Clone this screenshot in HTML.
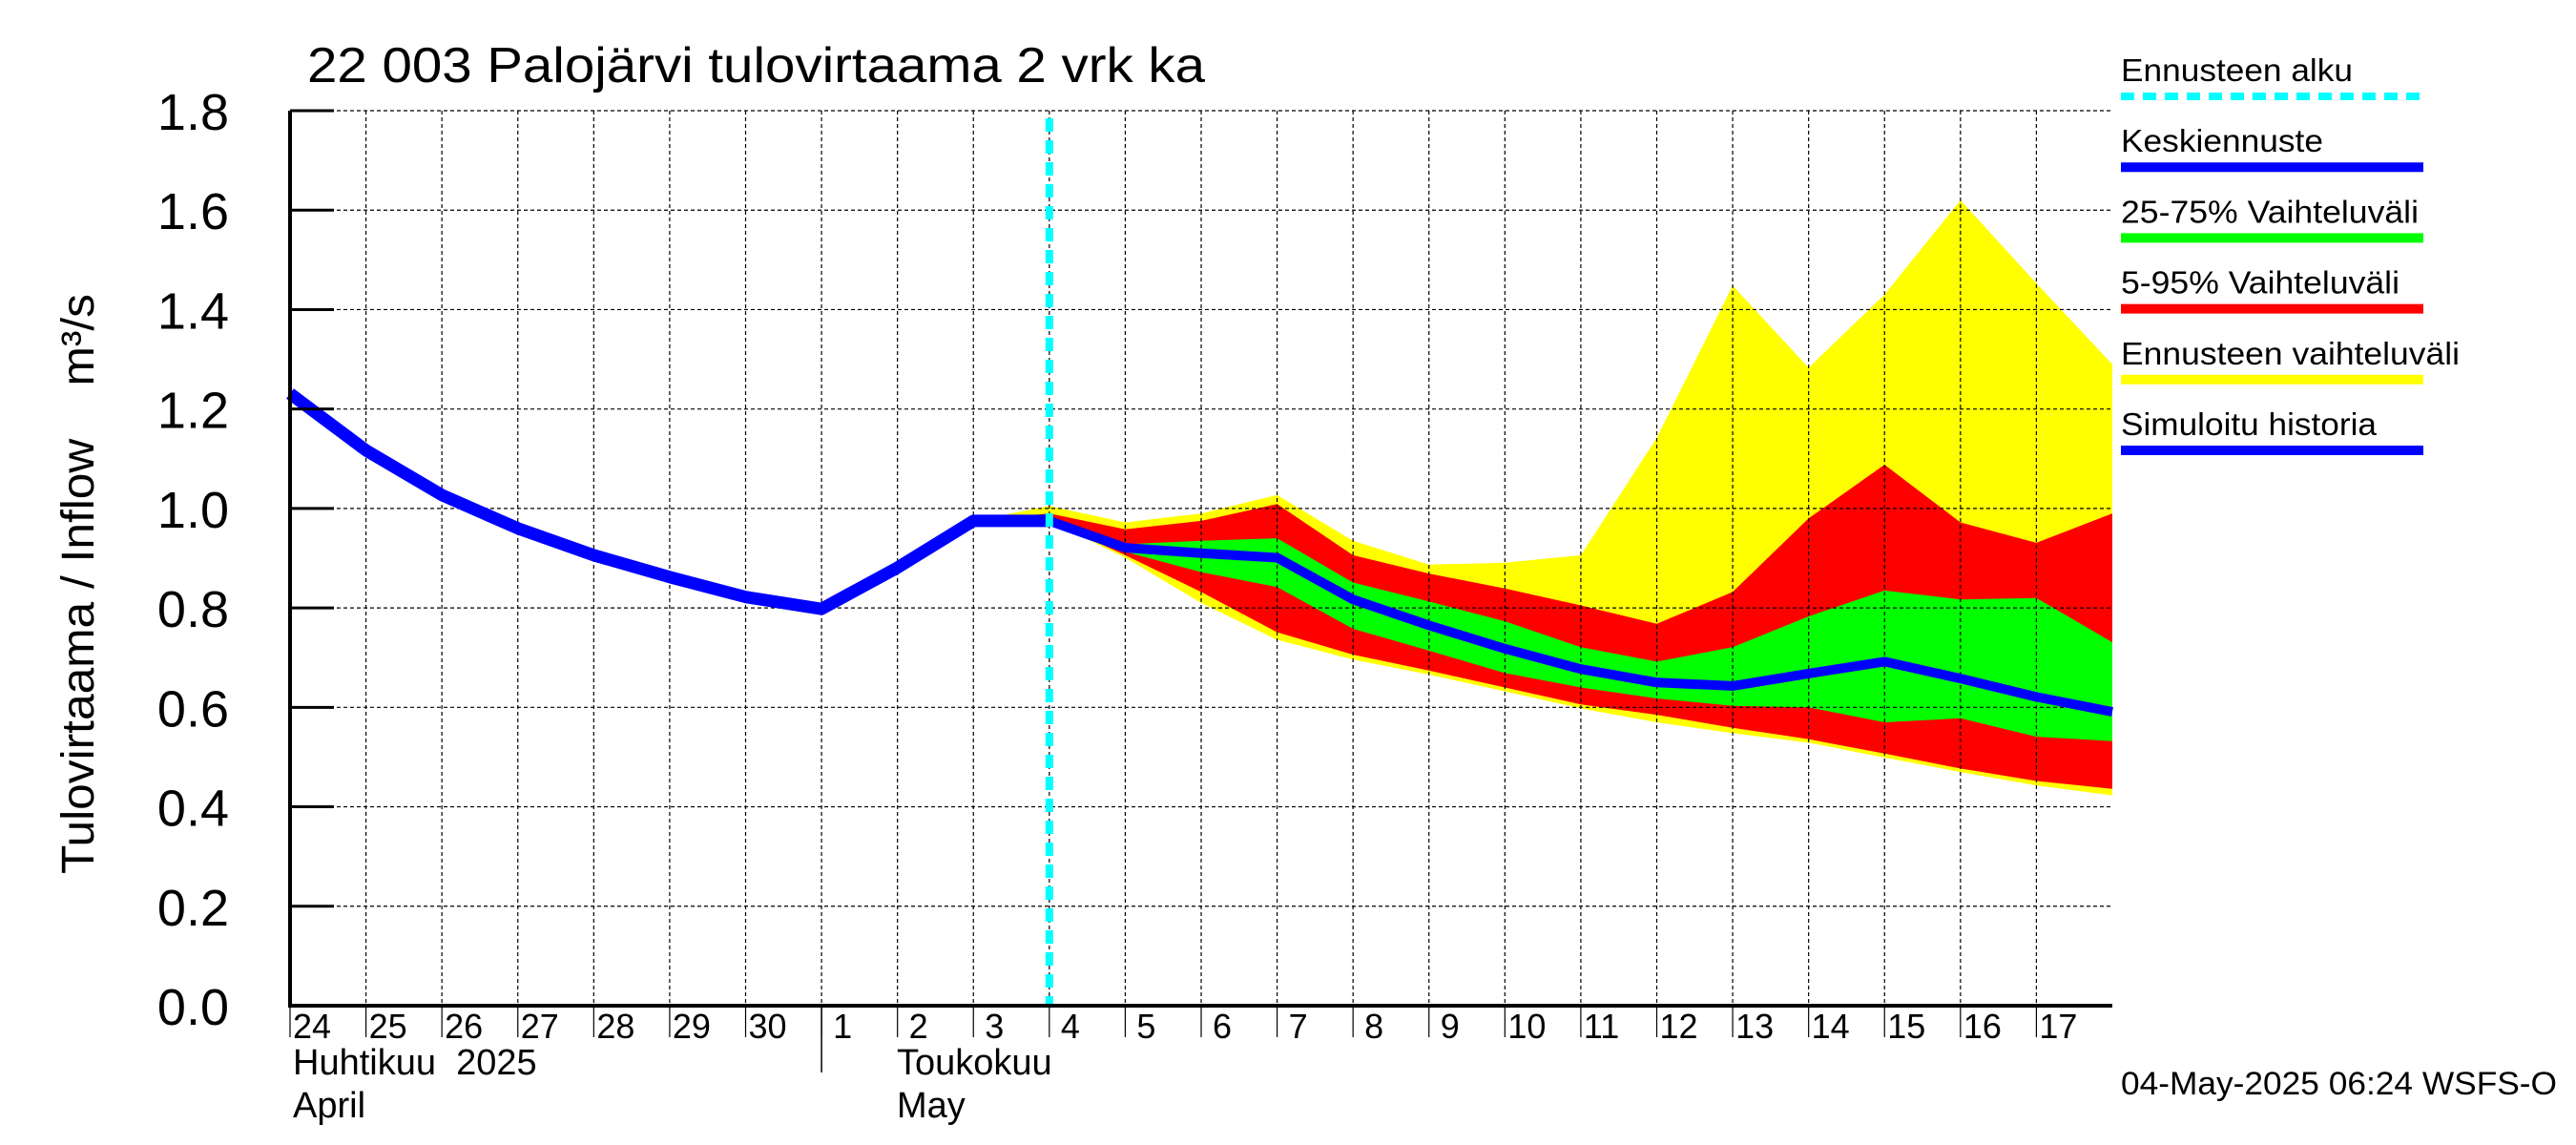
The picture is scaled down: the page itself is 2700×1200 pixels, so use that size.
<!DOCTYPE html>
<html><head><meta charset="utf-8"><style>
html,body{margin:0;padding:0;background:#fff;}
svg{display:block;font-family:"Liberation Sans",sans-serif;}
text{white-space:pre;}
</style></head><body>
<svg id="chart" width="2700" height="1200" viewBox="0 0 2700 1200" xmlns="http://www.w3.org/2000/svg" xml:space="preserve">
<rect width="2700" height="1200" fill="#fff"/>
<g id="bands"></g>
<g id="grid"></g>
<g id="lines"></g>
<g id="axes"></g>
<text x="322" y="86" font-size="52" textLength="941" lengthAdjust="spacingAndGlyphs">22 003 Palojärvi tulovirtaama 2 vrk ka</text>
<text transform="translate(98,612) rotate(-90)" text-anchor="middle" font-size="48" textLength="608" lengthAdjust="spacingAndGlyphs">Tulovirtaama / Inflow    m³/s</text>
<text x="307" y="1126" font-size="38">Huhtikuu  2025</text>
<text x="307" y="1171" font-size="38">April</text>
<text x="940" y="1126" font-size="38">Toukokuu</text>
<text x="940" y="1171" font-size="38">May</text>
<text x="2223" y="1147" font-size="34" textLength="457" lengthAdjust="spacingAndGlyphs">04-May-2025 06:24 WSFS-O</text>
<g id="legend"></g>
</svg>
<script>
const dayLabels=["24","25","26","27","28","29","30","1","2","3","4","5","6","7","8","9","10","11","12","13","14","15","16","17"];
const yTicks=[0,0.2,0.4,0.6,0.8,1.0,1.2,1.4,1.6,1.8];
const histValues=[1.231,1.117,1.027,0.96,0.906,0.862,0.822,0.798,0.881,0.975,0.975];
const fcStart=9;
const medianValues=[0.975,0.975,0.921,0.91,0.901,0.817,0.765,0.718,0.677,0.650,0.643,0.668,0.692,0.658,0.621,0.591];
const p75Values=[0.975,0.975,0.928,0.935,0.94,0.851,0.813,0.773,0.721,0.692,0.721,0.783,0.835,0.817,0.820,0.731];
const p25Values=[0.975,0.975,0.913,0.872,0.842,0.758,0.714,0.669,0.640,0.618,0.603,0.600,0.570,0.578,0.541,0.532];
const p95Values=[0.975,0.99,0.958,0.975,1.009,0.906,0.869,0.839,0.805,0.768,0.832,0.98,1.088,0.972,0.931,0.99];
const p05Values=[0.975,0.975,0.906,0.832,0.751,0.706,0.674,0.640,0.606,0.585,0.559,0.536,0.507,0.477,0.452,0.436];
const maxValues=[0.975,1.005,0.972,0.99,1.027,0.935,0.887,0.891,0.906,1.142,1.448,1.283,1.43,1.62,1.453,1.29];
const minValues=[0.975,0.975,0.901,0.81,0.736,0.696,0.666,0.632,0.598,0.570,0.548,0.529,0.499,0.470,0.443,0.423];
const forecastStartDay=10;

const X0=304,X1=2214,Y0=1054,Y1=116,NDAYS=24,YMAX=1.8;
const xs=i=>X0+(X1-X0)*i/NDAYS;
const ys=v=>Y0-(Y0-Y1)*v/YMAX;
const NS="http://www.w3.org/2000/svg";
function mk(parent,tag,attrs){const e=document.createElementNS(NS,tag);for(const k in attrs)e.setAttribute(k,attrs[k]);document.getElementById(parent).appendChild(e);return e;}

function band(up,lo,color,name){
  let pts=up.map((v,i)=>xs(fcStart+i)+","+ys(v));
  for(let i=lo.length-1;i>=0;i--)pts.push(xs(fcStart+i)+","+ys(lo[i]));
  const p=mk("bands","polygon",{points:pts.join(" "),fill:color});
  
  
}
band(maxValues,minValues,"#ffff00","band-forecast-range");
band(p95Values,p05Values,"#ff0000","band-5-95");
band(p75Values,p25Values,"#00ff00","band-25-75");

for(let i=1;i<NDAYS;i++){
  const l=mk("grid","line",{x1:xs(i),x2:xs(i),y1:Y1,y2:Y0,stroke:"#000","stroke-width":1.2,"stroke-dasharray":"4,3"});
  
  
}
yTicks.forEach(v=>{if(v===0)return;
  const l=mk("grid","line",{x1:X0,x2:X1,y1:ys(v),y2:ys(v),stroke:"#000","stroke-width":1.2,"stroke-dasharray":"4,3"});
  
  
});

const hist=mk("lines","polyline",{points:histValues.map((v,i)=>xs(i)+","+ys(v)).join(" "),fill:"none",stroke:"#0000ff","stroke-width":13,"stroke-linejoin":"round"});


const med=mk("lines","polyline",{points:medianValues.map((v,i)=>xs(fcStart+i)+","+ys(v)).join(" "),fill:"none",stroke:"#0000ff","stroke-width":10,"stroke-linejoin":"round"});


const cy=mk("lines","line",{x1:xs(forecastStartDay),x2:xs(forecastStartDay),y1:Y1+8,y2:Y0,stroke:"#00ffff","stroke-width":8,"stroke-dasharray":"14,9"});



const ax=mk("axes","path",{d:`M${X0},${Y1} V${Y0} H${X1}`,fill:"none",stroke:"#000","stroke-width":4});


yTicks.forEach(v=>{
  const t=mk("axes","line",{x1:X0,x2:X0+46,y1:ys(v),y2:ys(v),stroke:"#000","stroke-width":3});
  
  
  const tx=mk("axes","text",{x:240,y:ys(v)+20,"text-anchor":"end","font-size":54});
  tx.textContent=v.toFixed(1);
  
  
});
dayLabels.forEach((d,i)=>{
  const t=mk("axes","line",{x1:xs(i),x2:xs(i),y1:Y0,y2:1087,stroke:"#000","stroke-width":1.2});
  
  
  const tx=mk("axes","text",{x:xs(i)+(d.length>1?3:12),y:1088,"font-size":36});
  tx.textContent=d;
  
  
});
const ms=mk("axes","line",{x1:xs(7),x2:xs(7),y1:Y0,y2:1124,stroke:"#000","stroke-width":1.5});



const legendLabels=["Ennusteen alku","Keskiennuste","25-75% Vaihteluväli","5-95% Vaihteluväli","Ennusteen vaihteluväli","Simuloitu historia"];
const legendColors=["#00ffff","#0000ff","#00ff00","#ff0000","#ffff00","#0000ff"];
const legendWidths=[243,212,312,292,355,268];
legendLabels.forEach((s,i)=>{
  const by=85+i*74.2;
  const tx=mk("legend","text",{x:2223,y:by,"font-size":33,textLength:legendWidths[i],lengthAdjust:"spacingAndGlyphs"});
  tx.textContent=s;
  
  
  const a={x1:2223,x2:2540,y1:by+16,y2:by+16,stroke:legendColors[i],"stroke-width":i===0?8:10};
  if(i===0)a["stroke-dasharray"]="14,9";
  const l=mk("legend","line",a);
  
  
});
</script>
</body></html>
